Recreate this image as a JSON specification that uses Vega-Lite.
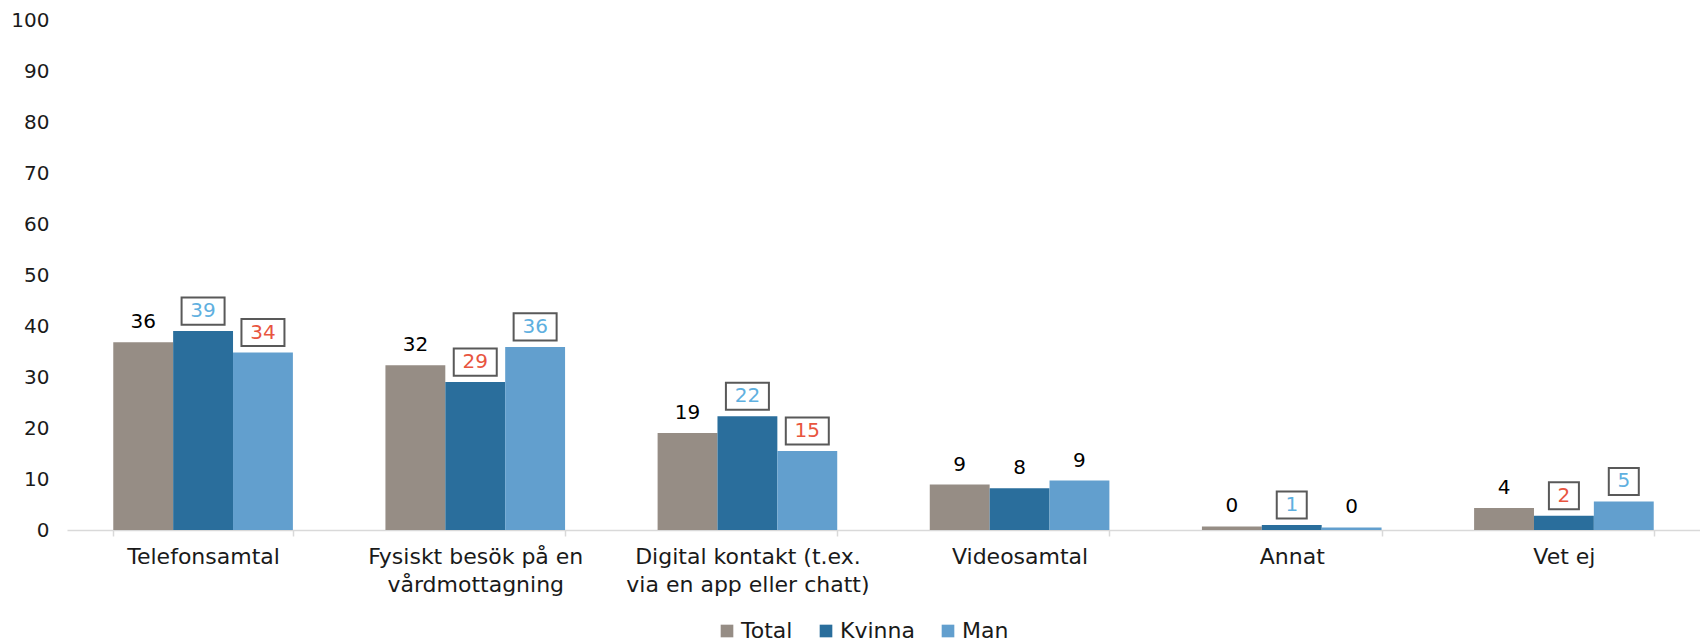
{
  "$schema": "https://vega.github.io/schema/vega-lite/v6.json",
  "width": 1633,
  "height": 510,
  "autosize": {"type": "none"},
  "padding": {"left": 67, "top": 20, "right": 0, "bottom": 113},
  "background": "white",
  "config": {
    "view": {"stroke": null},
    "font": "DejaVu Sans"
  },
  "data": {
    "values": [
      {"category": "Telefonsamtal", "group": "Total", "value": 36.8, "label": "36", "sig": "none"},
      {"category": "Telefonsamtal", "group": "Kvinna", "value": 39.0, "label": "39", "sig": "higher"},
      {"category": "Telefonsamtal", "group": "Man", "value": 34.8, "label": "34", "sig": "lower"},
      {"category": "Fysiskt besök på en vårdmottagning", "group": "Total", "value": 32.3, "label": "32", "sig": "none"},
      {"category": "Fysiskt besök på en vårdmottagning", "group": "Kvinna", "value": 29.0, "label": "29", "sig": "lower"},
      {"category": "Fysiskt besök på en vårdmottagning", "group": "Man", "value": 35.9, "label": "36", "sig": "higher"},
      {"category": "Digital kontakt (t.ex. via en app eller chatt)", "group": "Total", "value": 19.0, "label": "19", "sig": "none"},
      {"category": "Digital kontakt (t.ex. via en app eller chatt)", "group": "Kvinna", "value": 22.3, "label": "22", "sig": "higher"},
      {"category": "Digital kontakt (t.ex. via en app eller chatt)", "group": "Man", "value": 15.5, "label": "15", "sig": "lower"},
      {"category": "Videosamtal", "group": "Total", "value": 8.9, "label": "9", "sig": "none"},
      {"category": "Videosamtal", "group": "Kvinna", "value": 8.2, "label": "8", "sig": "none"},
      {"category": "Videosamtal", "group": "Man", "value": 9.7, "label": "9", "sig": "none"},
      {"category": "Annat", "group": "Total", "value": 0.7, "label": "0", "sig": "none"},
      {"category": "Annat", "group": "Kvinna", "value": 1.0, "label": "1", "sig": "higher"},
      {"category": "Annat", "group": "Man", "value": 0.5, "label": "0", "sig": "none"},
      {"category": "Vet ej", "group": "Total", "value": 4.3, "label": "4", "sig": "none"},
      {"category": "Vet ej", "group": "Kvinna", "value": 2.8, "label": "2", "sig": "lower"},
      {"category": "Vet ej", "group": "Man", "value": 5.6, "label": "5", "sig": "higher"}
    ]
  },
  "encoding": {
    "x": {
      "field": "category",
      "type": "nominal",
      "sort": null,
      "scale": {"paddingInner": 0.34, "paddingOuter": 0.17},
      "axis": {
        "title": null,
        "labelAngle": 0,
        "labelLimit": 0,
        "tickBand": "extent",
        "tickSize": 6,
        "tickColor": "#D9D9D9",
        "tickWidth": 1.5,
        "domainColor": "#D9D9D9",
        "domainWidth": 1.5,
        "labelPadding": 10,
        "labelFontSize": 22,
        "labelColor": "#1a1a1a",
        "labelLineHeight": 28,
        "labelBaseline": "top",
        "labelExpr": "datum.label == 'Fysiskt besök på en vårdmottagning' ? ['Fysiskt besök på en', 'vårdmottagning'] : datum.label == 'Digital kontakt (t.ex. via en app eller chatt)' ? ['Digital kontakt (t.ex.', 'via en app eller chatt)'] : datum.label"
      }
    },
    "xOffset": {
      "field": "group",
      "type": "nominal",
      "sort": ["Total", "Kvinna", "Man"],
      "scale": {"paddingInner": 0, "paddingOuter": 0}
    },
    "y": {
      "field": "value",
      "type": "quantitative",
      "scale": {"domain": [0, 100], "nice": false},
      "axis": {
        "title": null,
        "values": [0, 10, 20, 30, 40, 50, 60, 70, 80, 90, 100],
        "grid": false,
        "domain": false,
        "ticks": false,
        "labelPadding": 18,
        "labelFontSize": 20,
        "labelColor": "#1a1a1a"
      }
    }
  },
  "layer": [
    {
      "mark": {"type": "bar"},
      "encoding": {
        "color": {
          "field": "group",
          "type": "nominal",
          "sort": ["Total", "Kvinna", "Man"],
          "scale": {"domain": ["Total", "Kvinna", "Man"], "range": ["#968d85", "#2a6e9c", "#629fce"]},
          "legend": {
            "title": null,
            "orient": "none",
            "legendX": 649,
            "legendY": 600,
            "direction": "horizontal",
            "symbolType": "square",
            "symbolSize": 160,
            "symbolStrokeWidth": 0,
            "labelFontSize": 22,
            "labelColor": "#1a1a1a",
            "labelOffset": 3,
            "columnPadding": 22
          }
        }
      }
    },
    {
      "transform": [{"filter": "datum.sig != 'none' && length(datum.label) > 1"}],
      "mark": {"type": "point", "shape": "M-1,-0.63H1V0.63H-1Z", "size": 1849, "filled": false, "fill": "white", "fillOpacity": 1, "stroke": "#595959", "strokeWidth": 2, "opacity": 1, "yOffset": -20},
      "encoding": {}
    },
    {
      "transform": [{"filter": "datum.sig != 'none' && length(datum.label) == 1"}],
      "mark": {"type": "point", "shape": "M-1,-0.9H1V0.9H-1Z", "size": 900, "filled": false, "fill": "white", "fillOpacity": 1, "stroke": "#595959", "strokeWidth": 2, "opacity": 1, "yOffset": -20},
      "encoding": {}
    },
    {
      "mark": {"type": "text", "baseline": "middle", "align": "center", "dy": -20, "fontSize": 20},
      "encoding": {
        "text": {"field": "label", "type": "nominal"},
        "color": {
          "condition": [
            {"test": "datum.sig == 'higher'", "value": "#5fb0e0"},
            {"test": "datum.sig == 'lower'", "value": "#e8553f"}
          ],
          "value": "#000000"
        }
      }
    }
  ]
}
